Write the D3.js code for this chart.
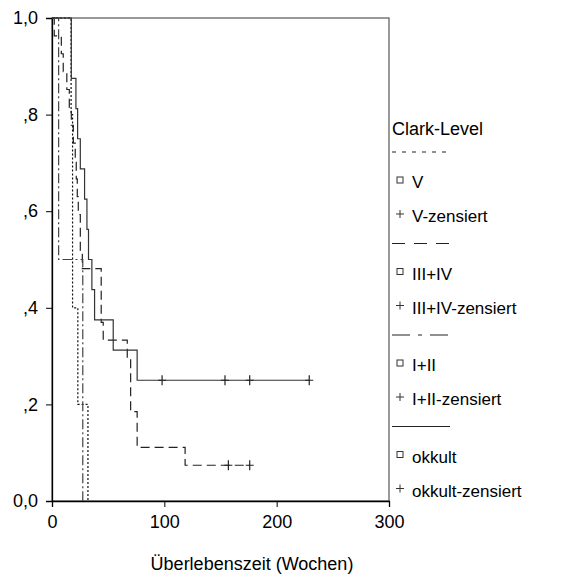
<!DOCTYPE html>
<html>
<head>
<meta charset="utf-8">
<script src="https://cdn.jsdelivr.net/npm/d3@7"></script>
<style>
  body { margin: 0; background: #fff; }
  text { font-family: "Liberation Sans", Arial, sans-serif; fill: #000; }
</style>
</head>
<body>
<script>
// Width, Height
var w = 565;
var h = 587;

/*** Data: step times (weeks) and survival levels ***/
var vTimes = [0, 17, 18.3, 23, 32];
var vSurv = [1, 0.8, 0.4, 0.2, 0];
var vCensor = [];

var iiiTimes = [0, 2, 8.3, 10, 13.2, 15.4, 17.2, 19, 20.7, 21.6, 22.5, 23.4, 25.2, 27,
                43.8, 45.6, 67, 70, 75.8, 118.5];
var iiiSurv = [1, .963, .926, .889, .852, .815, .778, .741, .704, .667, .630, .593, .519, .481,
               .370, .333, .296, .185, .111, .074];
var iiiCensor = [157, 176];

var iTimes = [0, 5.9, 27.4];
var iSurv = [1, 0.5, 0];
var iCensor = [];

var okTimes = [0, 17.2, 21.3, 22.8, 25.2, 29, 31.1, 32.5, 35.5, 37.9, 54.5, 75.8];
var okSurv = [1, .875, .8125, .75, .6875, .625, .5625, .5, .4375, .375, .3125, .25];
var okCensor = [98, 154, 176, 229];

var groups = ["V", "III+IV", "I+II", "okkult"];
var xTicks = [0, 100, 200, 300];
var yTicks = [0, 0.2, 0.4, 0.6, 0.8, 1];
var yTickLabels = ["0,0", ",2", ",4", ",6", ",8", "1,0"];

var series = [
  {name: groups[0], t: vTimes, s: vSurv, c: vCensor, dash: "2,2", legDash: "4,6", color: "#111"},
  {name: groups[1], t: iiiTimes, s: iiiSurv, c: iiiCensor, dash: "9,5", legDash: "13,9", color: "#222"},
  {name: groups[2], t: iTimes, s: iSurv, c: iCensor, dash: "10,3,2,3", legDash: "18,8,4,8", color: "#444"},
  {name: groups[3], t: okTimes, s: okSurv, c: okCensor, dash: null, legDash: null, color: "#333"}
];

var svg = d3.select("body")
            .append("svg")
            .attr("width", w)
            .attr("height", h);

/*** Scales ***/
var xScale = d3.scaleLinear()
               .domain([0, 300])
               .range([52, 389]);
var yScale = d3.scaleLinear()
               .domain([0, 1])
               .range([501, 18]);

/*** Frame ***/
svg.append("rect")
   .attr("x", xScale(0))
   .attr("y", yScale(1))
   .attr("width", xScale(300) - xScale(0))
   .attr("height", yScale(0) - yScale(1))
   .attr("fill", "none")
   .attr("stroke", "#555")
   .attr("stroke-width", 1.2);

/*** Axes ***/
var xAxis = d3.axisBottom(xScale)
              .tickValues(xTicks)
              .tickSize(6)
              .tickFormat(d3.format("d"));
var yAxis = d3.axisLeft(yScale)
              .tickValues(yTicks)
              .tickSize(6)
              .tickFormat(function(d, i) { return yTickLabels[i]; });

var gx = svg.append("g")
   .attr("transform", "translate(0," + yScale(0) + ")")
   .call(xAxis);
var gy = svg.append("g")
   .attr("transform", "translate(" + xScale(0) + ",0)")
   .call(yAxis);

[gx, gy].forEach(function(g) {
  g.select(".domain").attr("stroke", "#000").attr("stroke-width", 1.3);
  g.selectAll(".tick line").attr("stroke", "#000");
  g.selectAll(".tick text")
   .style("font-family", "Liberation Sans, Arial, sans-serif")
   .style("font-size", "18px")
   .attr("fill", "#000");
});
gx.selectAll(".tick text").attr("dy", "1.0em");
gy.selectAll(".tick text").attr("x", -14);

svg.append("text")
   .attr("x", 252)
   .attr("y", 570)
   .attr("text-anchor", "middle")
   .style("font-size", "18px")
   .text("Überlebenszeit (Wochen)");

/*** Survival step lines ***/
function stepPath(d) {
  var p = d3.path();
  p.moveTo(xScale(d.t[0]), yScale(d.s[0]));
  for (var i = 1; i < d.t.length; i++) {
    p.lineTo(xScale(d.t[i]), yScale(d.s[i - 1]));
    p.lineTo(xScale(d.t[i]), yScale(d.s[i]));
  }
  if (d.c.length) {
    p.lineTo(xScale(d3.max(d.c)), yScale(d.s[d.s.length - 1]));
  }
  return p.toString();
}

svg.selectAll(".km")
   .data(series)
   .enter()
   .append("path")
   .attr("class", "km")
   .attr("d", stepPath)
   .attr("fill", "none")
   .attr("stroke", function(d) { return d.color; })
   .attr("stroke-width", 1.2)
   .attr("stroke-dasharray", function(d) { return d.dash; });

// censor marks
series.forEach(function(d) {
  var lvl = d.s[d.s.length - 1];
  svg.selectAll(null)
     .data(d.c)
     .enter()
     .append("path")
     .attr("d", function(t) {
        var x = xScale(t), y = yScale(lvl);
        return "M" + x + "," + (y - 5) + "V" + (y + 5) + "M" + (x - 4) + "," + y + "H" + (x + 4);
     })
     .attr("stroke", "#222")
     .attr("stroke-width", 1.2);
});

/*** Legend ***/
var lx = 392;
var legend = svg.append("g");
legend.append("text")
      .attr("x", lx)
      .attr("y", 135)
      .style("font-size", "18px")
      .text("Clark-Level");

series.forEach(function(d, i) {
  var y0 = 152 + i * 91.5;
  legend.append("line")
        .attr("x1", lx).attr("x2", lx + 58)
        .attr("y1", y0).attr("y2", y0)
        .attr("stroke", "#222")
        .attr("stroke-width", 1.1)
        .attr("stroke-dasharray", d.legDash);
  legend.append("rect")
        .attr("x", lx + 5).attr("y", y0 + 25)
        .attr("width", 6).attr("height", 6)
        .attr("fill", "none")
        .attr("stroke", "#333")
        .attr("stroke-width", 1);
  legend.append("text")
        .attr("x", lx + 20).attr("y", y0 + 36)
        .style("font-size", "17px")
        .text(d.name);
  legend.append("path")
        .attr("d", "M" + (lx + 8) + "," + (y0 + 58) + "V" + (y0 + 66) +
                   "M" + (lx + 4) + "," + (y0 + 62) + "H" + (lx + 12))
        .attr("stroke", "#333")
        .attr("stroke-width", 1);
  legend.append("text")
        .attr("x", lx + 20).attr("y", y0 + 70)
        .style("font-size", "17px")
        .text(d.name + "-zensiert");
});
</script>
</body>
</html>
